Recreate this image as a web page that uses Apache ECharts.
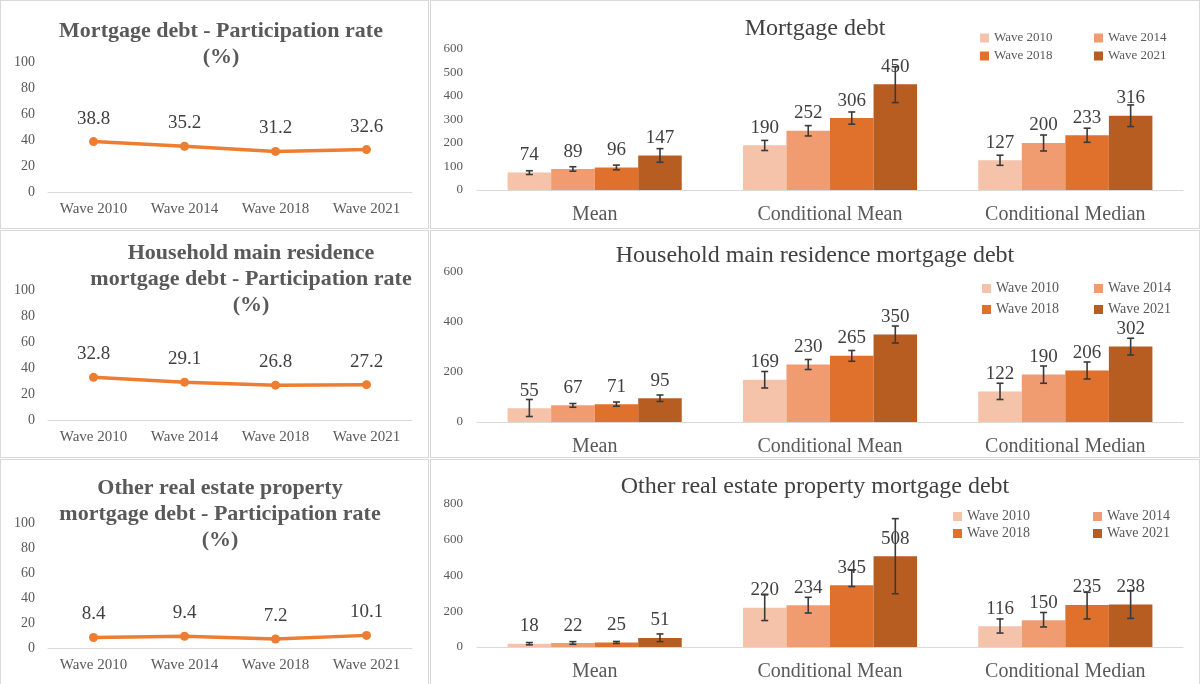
<!DOCTYPE html>
<html>
<head>
<meta charset="utf-8">
<script src="https://cdn.jsdelivr.net/npm/echarts@6/dist/echarts.min.js"></script>
<style>
html, body { margin: 0; padding: 0; background: #fff; }
.panel { position: absolute; box-sizing: border-box; border: 1px solid #d9d9d9; }
</style>
</head>
<body>
<div class="panel" id="rate1" style="left:0;top:0;width:429px;height:229px"></div>
<div class="panel" id="debt1" style="left:430px;top:0;width:770px;height:229px"></div>
<div class="panel" id="rate2" style="left:0;top:230px;width:429px;height:228px"></div>
<div class="panel" id="debt2" style="left:430px;top:230px;width:770px;height:228px"></div>
<div class="panel" id="rate3" style="left:0;top:459px;width:429px;height:230px"></div>
<div class="panel" id="debt3" style="left:430px;top:459px;width:770px;height:230px"></div>
<script>
var waves = ['Wave 2010', 'Wave 2014', 'Wave 2018', 'Wave 2021'];
var stats = ['Mean', 'Conditional Mean', 'Conditional Median'];

// participation rates (%)
var rateTotal = [38.8, 35.2, 31.2, 32.6];
var rateMain = [32.8, 29.1, 26.8, 27.2];
var rateOther = [8.4, 9.4, 7.2, 10.1];

// debt values, one row per wave: [Mean, Conditional Mean, Conditional Median]
var totalDebt = [[74, 190, 127], [89, 252, 200], [96, 306, 233], [147, 450, 316]];
var totalLow = [[66, 168, 105], [80, 230, 166], [86, 280, 203], [118, 372, 270]];
var totalHigh = [[82, 211, 148], [99, 274, 234], [106, 332, 263], [176, 524, 362]];

var mainDebt = [[55, 169, 122], [67, 230, 190], [71, 265, 206], [95, 350, 302]];
var mainLow = [[22, 136, 90], [59, 210, 155], [63, 243, 172], [82, 316, 268]];
var mainHigh = [[90, 202, 155], [74, 250, 224], [80, 286, 240], [108, 384, 335]];

var otherDebt = [[18, 220, 116], [22, 234, 150], [25, 345, 235], [51, 508, 238]];
var otherLow = [[12, 148, 78], [15, 190, 112], [20, 338, 157], [30, 298, 160]];
var otherHigh = [[25, 292, 157], [30, 278, 193], [31, 430, 306], [73, 718, 315]];

var waveColors = ['#F5C2AA', '#F09C70', '#E0712C', '#B85D22'];
var FONT = "'Liberation Serif', 'Times New Roman', serif";
var GAP = 0.26;

function rateChart(id, title, titleX, titleTop, gridTop, gridH, values) {
    var chart = echarts.init(document.getElementById(id));
    chart.setOption({
        animation: false,
        textStyle: { fontFamily: FONT },
        title: {
            text: title, left: titleX, top: titleTop, textAlign: 'center',
            textStyle: { fontFamily: FONT, fontSize: 22, fontWeight: 'bold', color: '#595959', lineHeight: 26 }
        },
        grid: { left: 47, top: gridTop, width: 364, height: gridH },
        xAxis: {
            type: 'category', data: waves,
            axisLine: { lineStyle: { color: '#d9d9d9' } },
            axisTick: { show: false },
            axisLabel: { color: '#595959', fontSize: 15, margin: 10, fontFamily: FONT }
        },
        yAxis: {
            type: 'value', min: 0, max: 100, interval: 20,
            splitLine: { show: false }, axisLine: { show: false }, axisTick: { show: false },
            axisLabel: { color: '#595959', fontSize: 14, margin: 13, fontFamily: FONT }
        },
        series: [{
            type: 'line', data: values, color: '#ED7D31',
            lineStyle: { width: 3.5, color: '#ED7D31' },
            itemStyle: { color: '#ED7D31' },
            symbol: 'circle', symbolSize: 9,
            label: { show: true, position: 'top', distance: 9, fontSize: 19, color: '#404040', fontFamily: FONT }
        }]
    });
}

function errorRender(w) {
    return function (params, api) {
        var band = api.size([1, 0])[0];
        var barW = band * (1 - GAP) / 4;
        var c = api.coord([api.value(0), 0]);
        var x = c[0] + (w - 1.5) * barW;
        var yLo = api.coord([api.value(0), api.value(1)])[1];
        var yHi = api.coord([api.value(0), api.value(2)])[1];
        var st = { stroke: '#3a3a3a', lineWidth: 1.6 };
        return {
            type: 'group',
            children: [
                { type: 'line', shape: { x1: x, y1: yLo, x2: x, y2: yHi }, style: st },
                { type: 'line', shape: { x1: x - 3.5, y1: yLo, x2: x + 3.5, y2: yLo }, style: st },
                { type: 'line', shape: { x1: x - 3.5, y1: yHi, x2: x + 3.5, y2: yHi }, style: st }
            ]
        };
    };
}

function debtChart(id, title, yMax, yStep, gridTop, gridH, lg, vals, lows, highs) {
    var chart = echarts.init(document.getElementById(id));
    var series = [];
    for (var i = 0; i < waves.length; i++) {
        series.push({
            name: waves[i], type: 'bar', data: vals[i],
            barGap: 0, barCategoryGap: (GAP * 100) + '%',
            itemStyle: { color: waveColors[i] },
            label: { show: true, position: 'top', distance: 8, fontSize: 19, color: '#404040', fontFamily: FONT }
        });
    }
    for (var i = 0; i < waves.length; i++) {
        var errData = [];
        for (var j = 0; j < stats.length; j++) {
            errData.push([j, lows[i][j], highs[i][j]]);
        }
        series.push({
            name: 'err' + i, type: 'custom', data: errData, z: 5, silent: true,
            encode: { x: 0, y: [1, 2] },
            renderItem: errorRender(i)
        });
    }
    chart.setOption({
        animation: false,
        textStyle: { fontFamily: FONT },
        title: {
            text: title, left: 'center', top: lg.titleTop,
            textStyle: { fontFamily: FONT, fontSize: 24, fontWeight: 'normal', color: '#404040' }
        },
        legend: {
            data: waves, left: lg.left, top: lg.top, width: lg.pitch * 2 + 5,
            itemWidth: 9, itemHeight: 9, itemGap: 0, icon: 'rect',
            textStyle: { fontFamily: FONT, fontSize: lg.font, color: '#595959', width: lg.pitch - 14, lineHeight: lg.row }
        },
        grid: { left: 46, top: gridTop, width: 706, height: gridH },
        xAxis: {
            type: 'category', data: stats,
            axisLine: { lineStyle: { color: '#d9d9d9' } },
            axisTick: { show: false },
            axisLabel: { color: '#595959', fontSize: 20, margin: 15, fontFamily: FONT }
        },
        yAxis: {
            type: 'value', min: 0, max: yMax, interval: yStep,
            splitLine: { show: false }, axisLine: { show: false }, axisTick: { show: false },
            axisLabel: { color: '#595959', fontSize: 13, margin: 14, fontFamily: FONT }
        },
        series: series
    });
}

rateChart('rate1', 'Mortgage debt - Participation rate\n(%)', 215, 12, 61, 130, rateTotal);
rateChart('rate2', 'Household main residence\nmortgage debt - Participation rate\n(%)', 245, 4, 59, 130, rateMain);
rateChart('rate3', 'Other real estate property\nmortgage debt - Participation rate\n(%)', 214, 10, 63, 125, rateOther);

debtChart('debt1', 'Mortgage debt', 600, 100, 48, 141,
    { titleTop: 11, left: 544, top: 23, pitch: 114, row: 18, font: 13 }, totalDebt, totalLow, totalHigh);
debtChart('debt2', 'Household main residence mortgage debt', 600, 200, 41, 150,
    { titleTop: 8, left: 546, top: 42, pitch: 112, row: 21, font: 14 }, mainDebt, mainLow, mainHigh);
debtChart('debt3', 'Other real estate property mortgage debt', 800, 200, 44, 143,
    { titleTop: 10, left: 517, top: 43, pitch: 140, row: 17, font: 14 }, otherDebt, otherLow, otherHigh);
</script>
</body>
</html>
